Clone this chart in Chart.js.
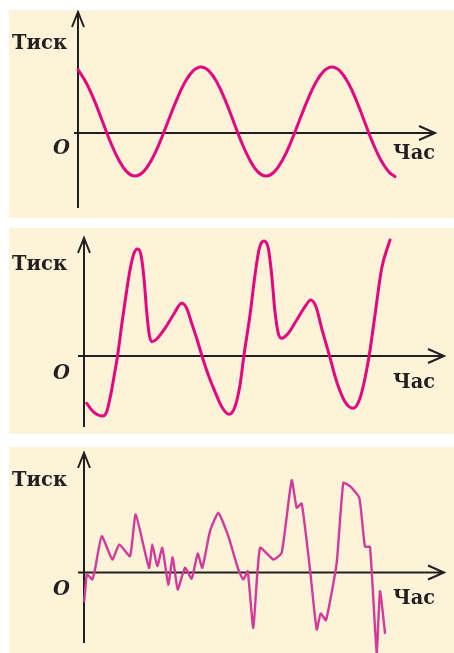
<!DOCTYPE html>
<html>
<head>
<meta charset="utf-8">
<script src="https://cdn.jsdelivr.net/npm/chart.js@4.4.0/dist/chart.umd.min.js"></script>
<style>
  html, body { margin: 0; padding: 0; background: #ffffff; }
  body { width: 454px; height: 653px; position: relative; overflow: hidden; }
  canvas { position: absolute; background: #fdf3d8; }
</style>
</head>
<body>
<canvas id="wave1"></canvas>
<canvas id="wave2"></canvas>
<canvas id="wave3"></canvas>
<script>
const yTitle = "Тиск";
const xTitle = "Час";
const originLabel = "O";

// pure tone
const timeA = [0, 0.83, 1.64, 2.45, 3.26, 4.08, 4.89, 5.7,
  6.53, 7.35, 8.18, 9.0, 9.83, 10.65, 11.48, 12.3,
  13.11, 13.93, 14.74, 15.55, 16.36, 17.18, 17.99, 18.8,
  19.63, 20.45, 21.28, 22.1, 22.93, 23.75, 24.58, 25.4,
  26.21, 27.03, 27.84, 28.65, 29.46, 30.28, 31.09, 31.7];
const pressureA = [6.35, 5.0, 3.24, 1.15, -0.94, -2.7, -3.89, -4.3,
  -3.89, -2.7, -0.94, 1.15, 3.24, 5.0, 6.19, 6.6,
  6.19, 5.0, 3.24, 1.15, -0.94, -2.7, -3.89, -4.3,
  -3.89, -2.7, -0.94, 1.15, 3.24, 5.0, 6.19, 6.6,
  6.19, 5.0, 3.24, 1.15, -0.94, -2.7, -3.89, -4.35];

// musical (periodic, complex)
const timeB = [0.27, 0.77, 1.27, 1.87, 2.27, 2.67, 3.03, 3.37, 3.77, 4.2, 4.6, 5.0, 5.37, 5.7, 6.0, 6.27, 6.53, 6.8,
  7.27, 8.1, 8.93, 9.77, 10.27, 10.77, 11.27, 11.77, 12.43, 13.1, 13.77, 14.5, 15.1, 15.6, 16.0, 16.6, 17.1, 17.53,
  18.0, 18.43, 18.77, 19.1, 19.43, 19.77, 20.43, 21.27, 22.1, 22.67, 23.2, 23.77, 24.53, 25.27, 26.1, 26.93, 27.6,
  28.1, 28.53, 29.1, 29.77, 30.6];
const pressureB = [-4.73, -5.4, -5.83, -6.0, -5.57, -3.9, -1.9, 0.1, 3.1, 6.1, 8.6, 10.27, 10.7, 10.1, 7.77, 4.43, 2.1, 1.43,
  1.7, 2.77, 4.1, 5.27, 4.77, 3.27, 1.77, 0.1, -1.9, -3.57, -5.07, -5.83, -5.07, -2.9, 0.1, 4.1, 8.1, 10.77,
  11.5, 10.77, 8.1, 4.43, 2.27, 1.77, 2.27, 3.6, 4.93, 5.6, 4.93, 2.77, 0.1, -2.57, -4.57, -5.23, -4.23,
  -2.23, 0.1, 4.1, 8.77, 11.6];

// noise
const timeC = [0.03, 0.27, 0.5, 0.83, 1.1, 1.77, 2.83, 3.53, 4.6, 5.17, 6.5, 6.83, 7.33, 7.83, 8.43, 8.87, 9.37, 10.1, 10.77, 11.37,
  11.83, 12.6, 13.43, 14.43, 15.43, 15.93, 16.37, 16.93, 17.6, 18.93, 19.77, 20.77, 21.27, 21.77, 22.6, 23.27, 23.67, 24.2,
  25.27, 25.93, 26.6, 27.53, 28.1, 28.6, 29.27, 29.6, 30.1];
const pressureC = [-2.87, -0.2, -0.37, -0.7, 0.3, 3.63, 1.3, 2.8, 1.63, 5.8, 0.47, 2.8, 0.63, 2.47, -1.2, 1.53, -1.7, 0.47, -0.63, 1.9,
  0.47, 4.13, 5.97, 3.63, 0.3, -0.7, 0.13, -5.53, 2.47, 1.3, 1.97, 9.23, 6.47, 6.9, 0.3, -5.7, -4.1, -4.77,
  0.97, 8.97, 8.63, 7.47, 2.57, 2.57, -8.0, -1.87, -6.03];

const panels = [
  { id: "wave1", box: [9, 10, 445, 208], range: [-6.9, 37.6, -8.5, 12.3], xAxis: [-0.4, 35.7], yAxis: [-7.5, 12.1],
    time: timeA, pressure: pressureA, color: "#e5057f", width: 3, tension: 0.4, mode: "default",
    titleBase: 49, originBase: 154, hourBase: 159 },
  { id: "wave2", box: [9, 228, 445, 206], range: [-7.5, 37.0, -7.8, 12.8], xAxis: [-0.6, 36.0], yAxis: [-7.1, 11.8],
    time: timeB, pressure: pressureB, color: "#e5057f", width: 3, tension: 0.4, mode: "monotone",
    titleBase: 270, originBase: 379, hourBase: 388 },
  { id: "wave3", box: [9, 447, 445, 206], range: [-7.5, 37.0, -8.05, 12.55], xAxis: [-0.6, 36.0], yAxis: [-7.05, 11.95],
    time: timeC, pressure: pressureC, color: "#d23a9b", width: 2.4, tension: 0.15, mode: "default",
    titleBase: 486, originBase: 595, hourBase: 604 }
];

function fitText(ctx, text, left, base, width) {
  const w = ctx.measureText(text).width;
  ctx.save();
  ctx.translate(left, base);
  ctx.scale(width / w, 1);
  ctx.fillText(text, 0, 0);
  ctx.restore();
}

const axesPlugin = {
  id: "axes",
  beforeDatasetsDraw(chart, args, opts) {
    const p = opts.panel;
    const ctx = chart.ctx;
    const sx = chart.scales.x, sy = chart.scales.y;
    const ox = sx.getPixelForValue(0), oy = sy.getPixelForValue(0);
    const x0 = sx.getPixelForValue(p.xAxis[0]), x1 = sx.getPixelForValue(p.xAxis[1]);
    const y0 = sy.getPixelForValue(p.yAxis[0]), y1 = sy.getPixelForValue(p.yAxis[1]);
    ctx.save();
    ctx.strokeStyle = "#231f20";
    ctx.lineWidth = 2;
    ctx.beginPath();
    ctx.moveTo(x0, oy); ctx.lineTo(x1, oy);
    ctx.moveTo(x1 - 16, oy - 7); ctx.lineTo(x1, oy); ctx.lineTo(x1 - 16, oy + 7);
    ctx.moveTo(ox, y0); ctx.lineTo(ox, y1);
    ctx.moveTo(ox - 6, y1 + 15); ctx.lineTo(ox, y1); ctx.lineTo(ox + 6, y1 + 15);
    ctx.stroke();

    const top = p.box[1], left = p.box[0];
    ctx.fillStyle = "#231f20";
    ctx.font = 'bold 20px "DejaVu Serif"';
    fitText(ctx, yTitle, 12 - left, p.titleBase - top, 55);
    fitText(ctx, xTitle, 393 - left, p.hourBase - top, 42);
    ctx.font = 'italic bold 21px "DejaVu Serif"';
    fitText(ctx, originLabel, 53 - left, p.originBase - top, 17);
    ctx.restore();
  }
};

panels.forEach(p => {
  const canvas = document.getElementById(p.id);
  canvas.style.left = p.box[0] + "px";
  canvas.style.top = p.box[1] + "px";
  canvas.width = p.box[2];
  canvas.height = p.box[3];
  new Chart(canvas, {
    type: "line",
    data: {
      datasets: [{
        data: p.time.map((t, i) => ({ x: t, y: p.pressure[i] })),
        borderColor: p.color,
        borderWidth: p.width,
        pointRadius: 0,
        fill: false,
        tension: p.tension,
        cubicInterpolationMode: p.mode,
        borderJoinStyle: "round",
        borderCapStyle: "round",
        clip: false
      }]
    },
    options: {
      responsive: false,
      animation: false,
      devicePixelRatio: 1,
      layout: { padding: 0 },
      plugins: { legend: { display: false }, tooltip: { enabled: false }, axes: { panel: p } },
      scales: {
        x: { type: "linear", display: false, min: p.range[0], max: p.range[1] },
        y: { type: "linear", display: false, min: p.range[2], max: p.range[3] }
      }
    },
    plugins: [axesPlugin]
  });
});
</script>
</body>
</html>
